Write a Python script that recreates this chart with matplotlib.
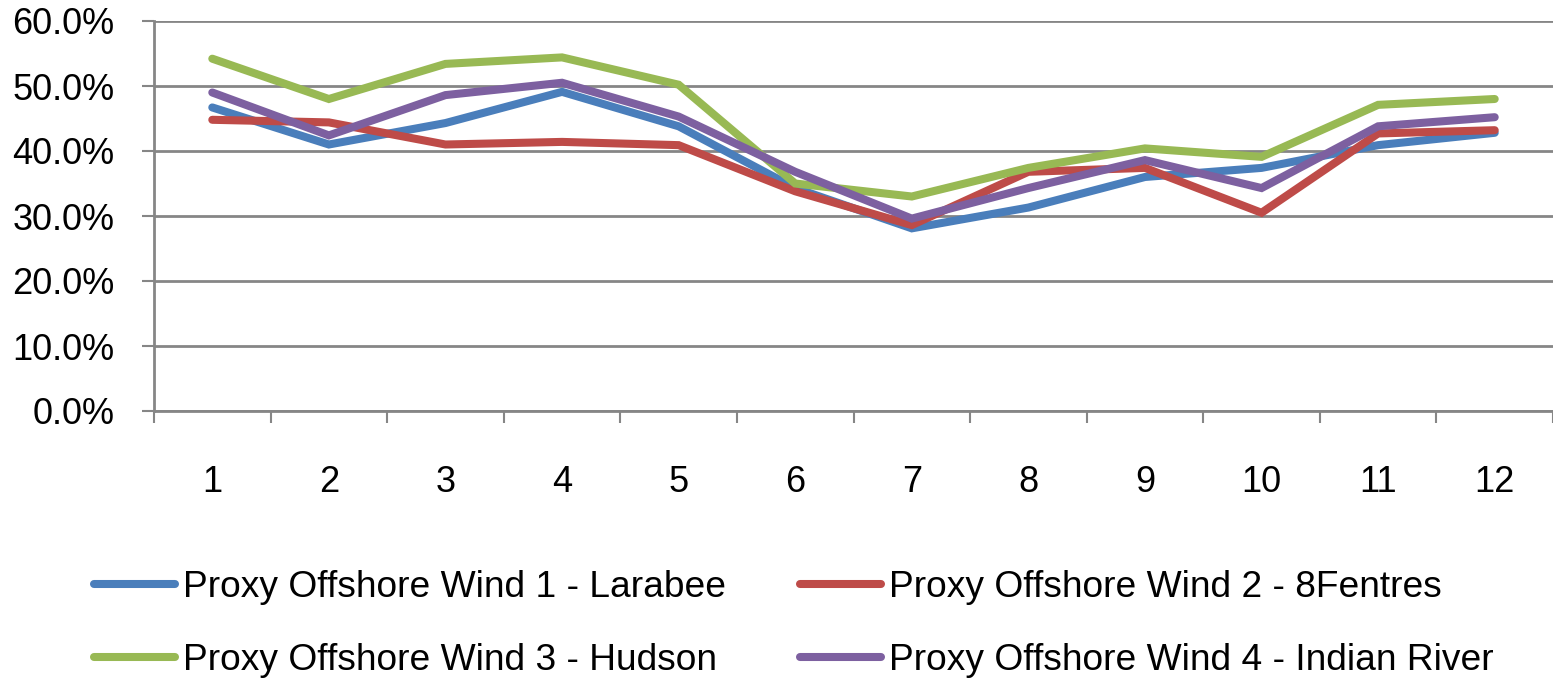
import matplotlib
matplotlib.use('Agg')
import matplotlib.pyplot as plt
from matplotlib.ticker import FuncFormatter, FixedLocator

plt.rcParams['font.family'] = ['Liberation Sans', 'DejaVu Sans']

# Monthly values (fraction)
months = list(range(1, 13))
larabee = [0.467, 0.410, 0.443, 0.491, 0.438, 0.343, 0.281, 0.313, 0.360, 0.374, 0.409, 0.428]
fentres = [0.448, 0.444, 0.410, 0.414, 0.409, 0.338, 0.286, 0.368, 0.374, 0.305, 0.427, 0.432]
hudson = [0.542, 0.480, 0.534, 0.544, 0.502, 0.350, 0.330, 0.374, 0.404, 0.391, 0.471, 0.480]
indian_river = [0.490, 0.424, 0.486, 0.505, 0.453, 0.368, 0.296, 0.343, 0.386, 0.343, 0.438, 0.452]

labels = ['Proxy Offshore Wind 1 - Larabee', 'Proxy Offshore Wind 2 - 8Fentres',
          'Proxy Offshore Wind 3 - Hudson', 'Proxy Offshore Wind 4 - Indian River']
colors = ['#4A7EBB', '#BE4B48', '#98B954', '#7D60A0']
series = [larabee, fentres, hudson, indian_river]

fig = plt.figure(figsize=(15.53, 6.79), dpi=100)
ax = fig.add_axes([154 / 1553, 1 - 411 / 679, 1399 / 1553, 390 / 679])

lines = []
for vals, lab, col in zip(series, labels, colors):
    ln, = ax.plot(months, vals, color=col, lw=5.8, label=lab, solid_capstyle='round',
                  solid_joinstyle='miter')
    lines.append(ln)

grid_col = '#868686'
ax.set_xlim(0.5, 12.5)
ax.set_ylim(0, 0.6)
ax.set_yticks([i / 10 for i in range(7)])
ax.yaxis.set_major_formatter(FuncFormatter(lambda v, p: f'{v * 100:.1f}%'))
ax.grid(axis='y', color=grid_col, lw=2)
ax.set_axisbelow(True)

ax.set_xticks(months)
ax.set_xticklabels([str(m) for m in months])
ax.xaxis.set_minor_locator(FixedLocator([m + 0.5 for m in range(0, 13)]))
ax.tick_params(axis='x', which='major', length=0, pad=39, labelsize=26)
ax.tick_params(axis='x', which='minor', length=8.5, width=1.5, color=grid_col)
ax.tick_params(axis='y', length=8.5, width=1.5, color=grid_col, pad=20, labelsize=26)

for side in ['top', 'right']:
    ax.spines[side].set_visible(False)
for side in ['left', 'bottom']:
    ax.spines[side].set_color(grid_col)
    ax.spines[side].set_linewidth(2)

order = [0, 2, 1, 3]
fig.legend([lines[i] for i in order], [labels[i] for i in order], ncol=2,
           loc='center', bbox_to_anchor=(0.511, 1 - 624 / 679), frameon=False,
           fontsize=26.7, handlelength=2.2, handletextpad=0.2, columnspacing=2.0,
           labelspacing=1.0)

fig.savefig('out.png', dpi=100)
